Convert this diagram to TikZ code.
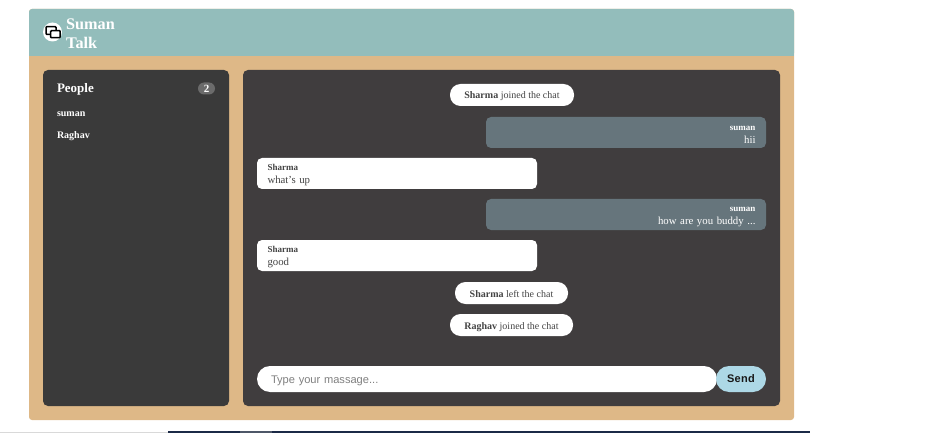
\documentclass[tikz,border=0pt]{standalone}
\usepackage{fontspec}
\setmainfont{Liberation Serif}
\newfontfamily\uifont{Liberation Sans}
\newfontfamily\sendfont[LetterSpace=3]{Liberation Sans}
\usetikzlibrary{positioning}
\definecolor{tanpage}{HTML}{DEB887}
\definecolor{tealbar}{HTML}{93BDBB}
\definecolor{darkside}{HTML}{3A3A3A}
\definecolor{darkchat}{HTML}{403D3E}
\definecolor{greymsg}{HTML}{66757C}
\definecolor{inktext}{HTML}{444444}
\definecolor{skysend}{HTML}{ADD8E6}
\definecolor{navyline}{HTML}{1B2A47}
\definecolor{slateline}{HTML}{4E5768}
\newcommand{\fpx}[2][12.5]{\fontsize{#2}{#1}\selectfont}
\tikzset{
	panelbox/.style={rectangle, rounded corners=5pt, inner sep=0pt, outer sep=0pt, anchor=north west},
	msgright/.style={panelbox, fill=greymsg, text=white, minimum width=280pt, minimum height=31pt, text width=259pt, align=right, text height=9.2pt, font=\fpx{10.8}},
	msgleft/.style={panelbox, fill=white, text=inktext, minimum width=280pt, minimum height=31pt, text width=259pt, align=left, text height=9.2pt, font=\fpx{10.8}},
	notice/.style={rectangle, rounded corners=10.5pt, fill=white, text=inktext, inner sep=0pt, outer sep=0pt, minimum height=22pt, text height=8pt, text depth=0pt, font=\fpx{10}},
	sidetext/.style={inner sep=0pt, outer sep=0pt, anchor=west, text=white, font=\fpx{10}\bfseries},
	logobox/.style={draw=black, line width=1.5pt, rounded corners=0.8pt, fill=white},
}
\begin{document}
\begin{tikzpicture}[x=1pt, y=-1pt]
	\useasboundingbox (0,0) rectangle (935,433);
	% page frame
	\fill[tanpage, rounded corners=3pt] (29,9) rectangle (794,420);
	\fill[tealbar, rounded corners=3pt] (29,9) rectangle (794,56);
	\fill[tealbar] (29,40) rectangle (794,56);
	% logo
	\node[circle, fill=white, inner sep=0pt, minimum size=19pt](logo) at (52.5,32){};
	\draw[logobox] (46,26.7) rectangle (56,34.3);
	\draw[logobox] (50.7,30.7) rectangle (60.2,37.7);
	\node[inner sep=0pt, anchor=west, text=white, font=\fpx{16.2}\bfseries](title1) at (66,24){Suman};
	\node[inner sep=0pt, anchor=west, text=white, font=\fpx{16.2}\bfseries](title2) at (66,42.5){Talk};
	% people panel
	\node[panelbox, fill=darkside, minimum width=186pt, minimum height=336pt](side) at (43,70){};
	\node[sidetext, font=\fpx{13}\bfseries](people) at (57,89.5){People};
	\node[rectangle, rounded corners=6pt, fill=white!25!darkside, text=white, inner sep=0pt, minimum width=17pt, minimum height=12pt, font=\fpx{11}\bfseries](count) at (206.5,88.5){2};
	\node[sidetext](user1) at (57,114){suman};
	\node[sidetext](user2) at (57,136){Raghav};
	% chat panel
	\node[panelbox, fill=darkchat, minimum width=537pt, minimum height=336pt](chat) at (243,70){};
	\node[notice, minimum width=124pt](join1) at (512,95){\textbf{Sharma} joined the chat};
	\node[msgright](msg1) at (486,117){{\fpx{9}\bfseries suman}\\hii};
	\node[msgleft](msg2) at (257,158){{\fpx{9}\bfseries Sharma}\\what's up};
	\node[msgright](msg3) at (486,199){{\fpx{9}\bfseries suman}\\how are you buddy ...};
	\node[msgleft](msg4) at (257,240){{\fpx{9}\bfseries Sharma}\\good};
	\node[notice, minimum width=113pt](left1) at (511.5,293){\textbf{Sharma} left the chat};
	\node[notice, minimum width=123pt](join2) at (511.5,325){\textbf{Raghav} joined the chat};
	% input row
	\node[rectangle, rounded corners=13pt, fill=white, text=gray, inner sep=0pt, outer sep=0pt, minimum width=460pt, minimum height=26pt, text width=432pt, align=left, text height=9pt, text depth=0pt, font=\uifont\fpx{11.1}](input) at (487,379){Type your massage...};
	\node[rectangle, rounded corners=13pt, fill=skysend, text=black!90, inner sep=0pt, outer sep=0pt, minimum width=50pt, minimum height=26pt, font=\sendfont\bfseries\fpx{11}, right=-1pt of input](send){Send};
	% strip along the bottom edge
	\fill[black!15] (0,431.5) rectangle (168,433);
	\fill[navyline] (168,431) rectangle (810,433);
	\fill[slateline] (240,431) rectangle (272,433);
\end{tikzpicture}
\end{document}
